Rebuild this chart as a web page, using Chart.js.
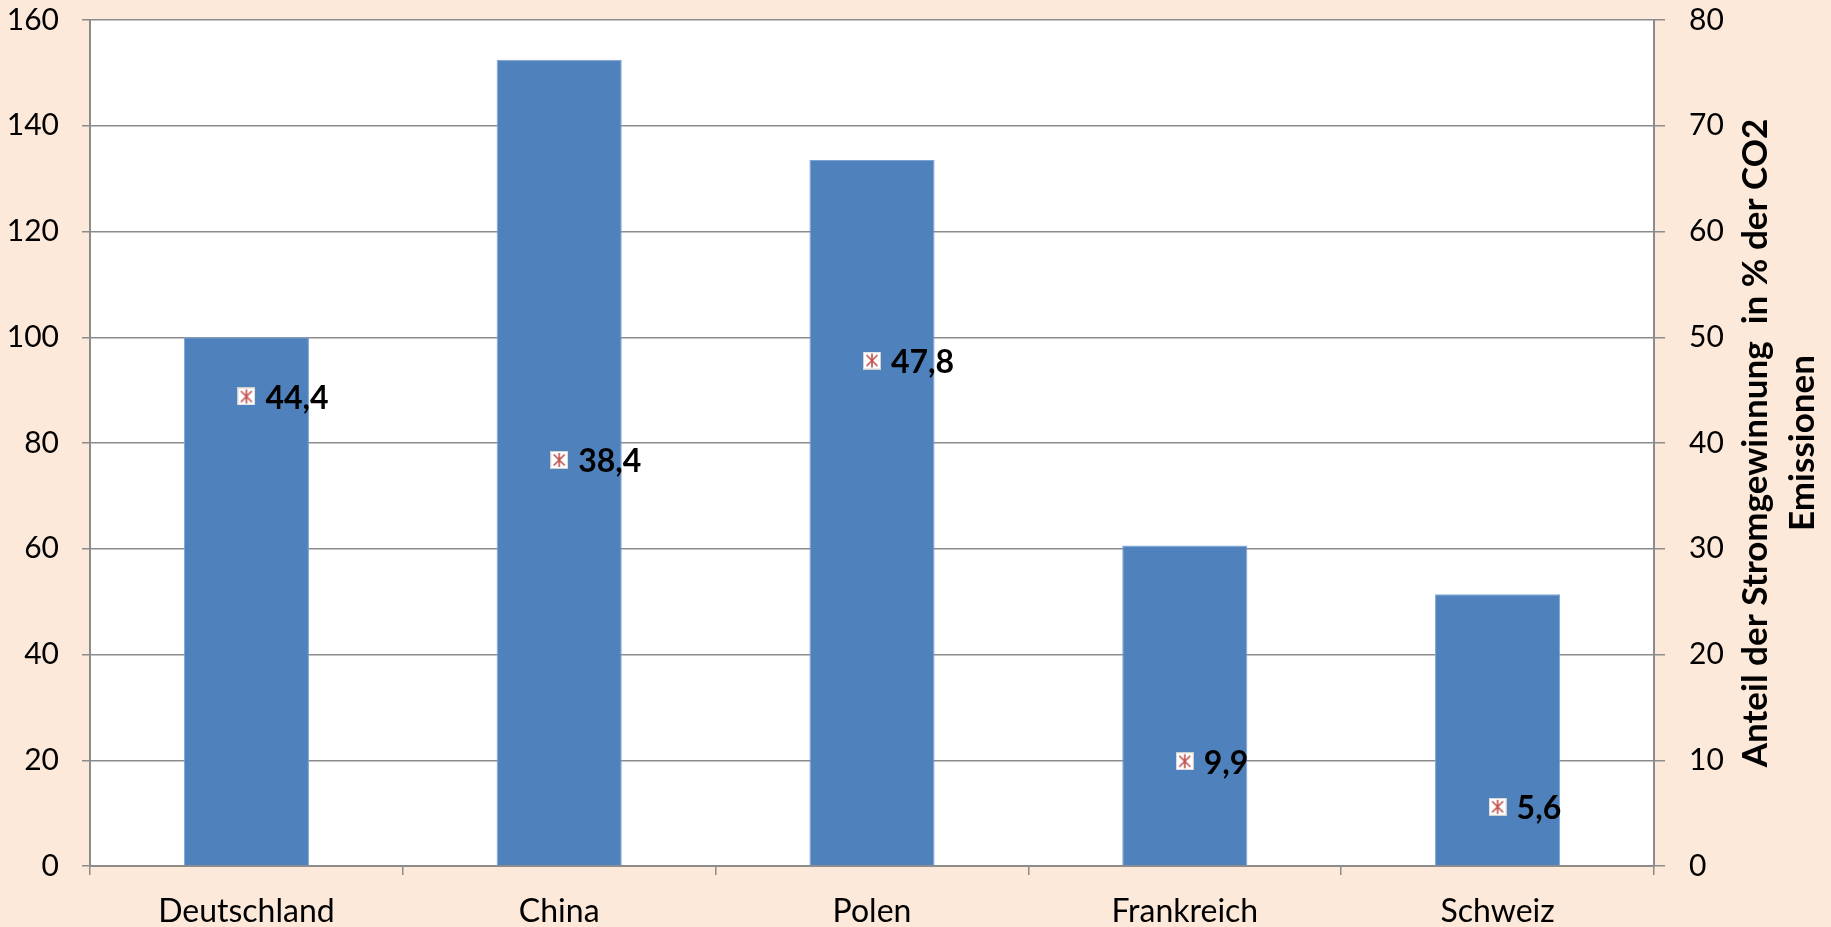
<!DOCTYPE html>
<html>
<head>
<meta charset="utf-8">
<script src="https://cdn.jsdelivr.net/npm/chart.js@4.4.1/dist/chart.umd.min.js"></script>
<style>
  html, body { margin: 0; padding: 0; background: #fde9d9; }
  #wrap { width: 1831px; height: 927px; }
</style>
</head>
<body>
<div id="wrap"><canvas id="co2Chart" width="1831" height="927"></canvas></div>
<script>
// data
const countries = ['Deutschland', 'China', 'Polen', 'Frankreich', 'Schweiz'];
const co2Index = [100, 152.5, 133.5, 60.6, 51.4];          // left axis
const stromAnteil = [44.4, 38.4, 47.8, 9.9, 5.6];           // right axis, %
const stromLabels = ['44,4', '38,4', '47,8', '9,9', '5,6'];
const rightTitle = ['Anteil der Stromgewinnung  in % der CO2', 'Emissionen'];

const FONT = 'Lato, "Open Sans", sans-serif';
const axisGrey = '#8c8c8c';

// little white square with a red asterisk, like the Excel marker
function makeMarker() {
    const c = document.createElement('canvas');
    c.width = 18; c.height = 18;
    const g = c.getContext('2d');
    g.fillStyle = '#fff';
    g.fillRect(0, 0, 18, 18);
    g.strokeStyle = '#d0d0d0';
    g.lineWidth = 1;
    g.strokeRect(0.5, 0.5, 17, 17);
    g.strokeStyle = '#c0504d';
    g.lineWidth = 1.6;
    g.beginPath();
    g.moveTo(9, 2); g.lineTo(9, 16);
    g.moveTo(3.5, 3.5); g.lineTo(14.5, 14.5);
    g.moveTo(14.5, 3.5); g.lineTo(3.5, 14.5);
    g.stroke();
    return c;
}

const backgroundPlugin = {
    id: 'bg',
    beforeDraw(chart) {
        const { ctx, chartArea: a } = chart;
        ctx.save();
        ctx.fillStyle = '#fde9d9';
        ctx.fillRect(0, 0, chart.width, chart.height);
        ctx.fillStyle = '#ffffff';
        ctx.fillRect(a.left, a.top, a.right - a.left, a.bottom - a.top);
        ctx.restore();
    }
};

// value labels next to the markers
const valueLabels = {
    id: 'valueLabels',
    afterDatasetsDraw(chart) {
        const ctx = chart.ctx;
        const meta = chart.getDatasetMeta(1);
        ctx.save();
        ctx.font = 'bold 32px ' + FONT;
        ctx.fillStyle = '#000';
        ctx.textAlign = 'left';
        ctx.textBaseline = 'middle';
        meta.data.forEach((pt, i) => {
            ctx.fillText(stromLabels[i], pt.x + 19, pt.y + 2);
        });
        ctx.restore();
    }
};

// right axis title reads bottom to top, so draw it by hand
const rightTitlePlugin = {
    id: 'rightTitle',
    afterDraw(chart) {
        const ctx = chart.ctx;
        const a = chart.chartArea;
        const cy = (a.top + a.bottom) / 2;
        ctx.save();
        ctx.font = 'bold 35px ' + FONT;
        ctx.fillStyle = '#000';
        ctx.textAlign = 'center';
        ctx.textBaseline = 'middle';
        [a.right + 102, a.right + 149].forEach((x, i) => {
            ctx.save();
            ctx.translate(x, cy);
            ctx.rotate(-Math.PI / 2);
            ctx.fillText(rightTitle[i], 0, 0);
            ctx.restore();
        });
        ctx.restore();
    }
};

function noPad(scale) {
    scale.paddingTop = 0;
    scale.paddingBottom = 0;
}

const ctx = document.getElementById('co2Chart').getContext('2d');
const co2Chart = new Chart(ctx, {
    data: {
        labels: countries,
        datasets: [{
            type: 'bar',
            data: co2Index,
            backgroundColor: '#4f81bd',
            borderColor: '#7ea3d3',
            borderWidth: 1,
            barPercentage: 0.4,
            categoryPercentage: 1,
            yAxisID: 'y',
            order: 2
        }, {
            type: 'line',
            data: stromAnteil,
            showLine: false,
            pointStyle: makeMarker(),
            pointRadius: 9,
            yAxisID: 'y1',
            order: 1
        }]
    },
    options: {
        responsive: false,
        animation: false,
        layout: { padding: { top: 20, left: 0, right: 0, bottom: 0 } },
        plugins: {
            legend: { display: false },
            tooltip: { enabled: false }
        },
        scales: {
            x: {
                offset: true,
                grid: { offset: true, drawOnChartArea: false, color: axisGrey, tickLength: 9, lineWidth: 1.5 },
                border: { color: axisGrey, width: 2 },
                ticks: { color: '#000', font: { family: FONT, size: 32 }, padding: 17 },
                afterFit(scale) { scale.height = 61; }
            },
            y: {
                position: 'left',
                min: 0, max: 160,
                ticks: { stepSize: 20, color: '#000', font: { family: FONT, size: 30 }, padding: 23 },
                grid: { color: axisGrey, tickLength: 8, lineWidth: 1.5 },
                border: { color: axisGrey, width: 2 },
                afterFit(scale) { scale.width = 90; noPad(scale); }
            },
            y1: {
                position: 'right',
                min: 0, max: 80,
                ticks: { stepSize: 10, color: '#000', font: { family: FONT, size: 30 }, padding: 24 },
                grid: { drawOnChartArea: false, color: axisGrey, tickLength: 11, lineWidth: 1.5 },
                border: { color: axisGrey, width: 2 },
                afterFit(scale) { scale.width = 177; noPad(scale); }
            }
        }
    },
    plugins: [backgroundPlugin, valueLabels, rightTitlePlugin]
});
</script>
</body>
</html>
